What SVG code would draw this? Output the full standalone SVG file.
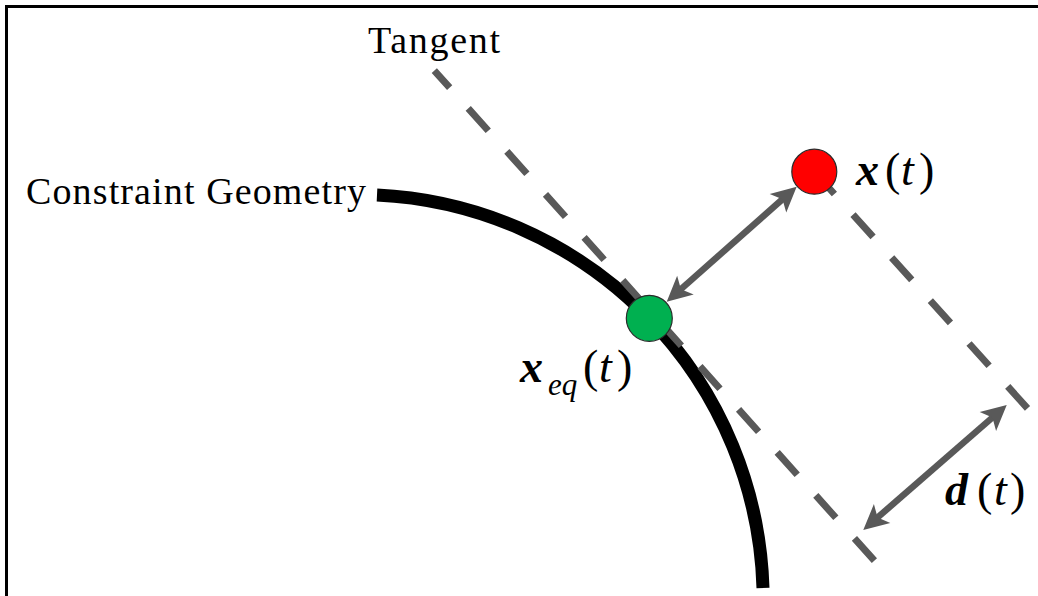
<svg xmlns="http://www.w3.org/2000/svg" width="1038" height="596" viewBox="0 0 1038 596">
  <style>
    .lbl { font-family: "Liberation Serif", "Times New Roman", serif; font-size: 38px; fill: #000; }
    .math { font-family: "Liberation Serif", "Times New Roman", serif; font-size: 46px; fill: #000; }
    .bi { font-weight: bold; font-style: italic; }
    .it { font-style: italic; }
    .sub { font-size: 31px; font-style: italic; }
    .dash { fill: none; stroke: #595959; stroke-width: 7; stroke-dasharray: 30 27.8; stroke-linecap: butt; }
    .arrow { fill: none; stroke: #595959; stroke-width: 6.5; marker-start: url(#head); marker-end: url(#head); }
    .pt { stroke: #2b2b2b; stroke-width: 1.2; }
  </style>
  <defs>
    <marker id="head" markerUnits="userSpaceOnUse" orient="auto-start-reverse" refX="0" refY="0" markerWidth="30" markerHeight="30" overflow="visible">
      <path d="M10,0 L-15,-12.5 L-9,0 L-15,12.5 Z" fill="#595959"/>
    </marker>
  </defs>
  <rect x="0" y="0" width="1038" height="596" fill="#fff"/>
  <rect x="6.5" y="6.5" width="1045" height="600" fill="none" stroke="#000" stroke-width="3"/>

  <g id="constraint-geometry">
    <path d="M377,195 A405.6,405.6 0 0 1 763,588" fill="none" stroke="#000" stroke-width="13"/>
    <text class="lbl" x="26" y="204" textLength="340" lengthAdjust="spacing">Constraint Geometry</text>
  </g>

  <g id="tangent">
    <line class="dash" x1="434.3" y1="70.6" x2="874.4" y2="560.7" stroke-dashoffset="7"/>
    <text class="lbl" x="368" y="53" textLength="132" lengthAdjust="spacing">Tangent</text>
  </g>

  <g id="offset-line">
    <line class="dash" x1="814.3" y1="171.7" x2="1027.5" y2="408.4"/>
  </g>

  <g id="connectors">
    <line class="arrow" x1="674.2" y1="295.1" x2="789.2" y2="193.3"/>
    <line class="arrow" x1="870.8" y1="523.4" x2="999.2" y2="411.6"/>
  </g>

  <g id="x-eq">
    <circle class="pt" cx="649.3" cy="318.3" r="23" fill="#00B050"/>
    <text class="math" y="381.7"><tspan x="520" class="bi">x</tspan><tspan x="548" y="395" class="sub">eq</tspan><tspan x="583" y="381.7">(</tspan><tspan x="599" class="it">t</tspan><tspan x="617">)</tspan></text>
  </g>

  <g id="x">
    <circle class="pt" cx="814.3" cy="171.7" r="22.5" fill="#FF0000"/>
    <text class="math" y="185"><tspan x="856" class="bi">x</tspan><tspan x="885">(</tspan><tspan x="901" class="it">t</tspan><tspan x="919">)</tspan></text>
  </g>

  <g id="d">
    <text class="math" y="505"><tspan x="945" class="bi">d</tspan><tspan x="977">(</tspan><tspan x="994" class="it">t</tspan><tspan x="1010">)</tspan></text>
  </g>
</svg>
